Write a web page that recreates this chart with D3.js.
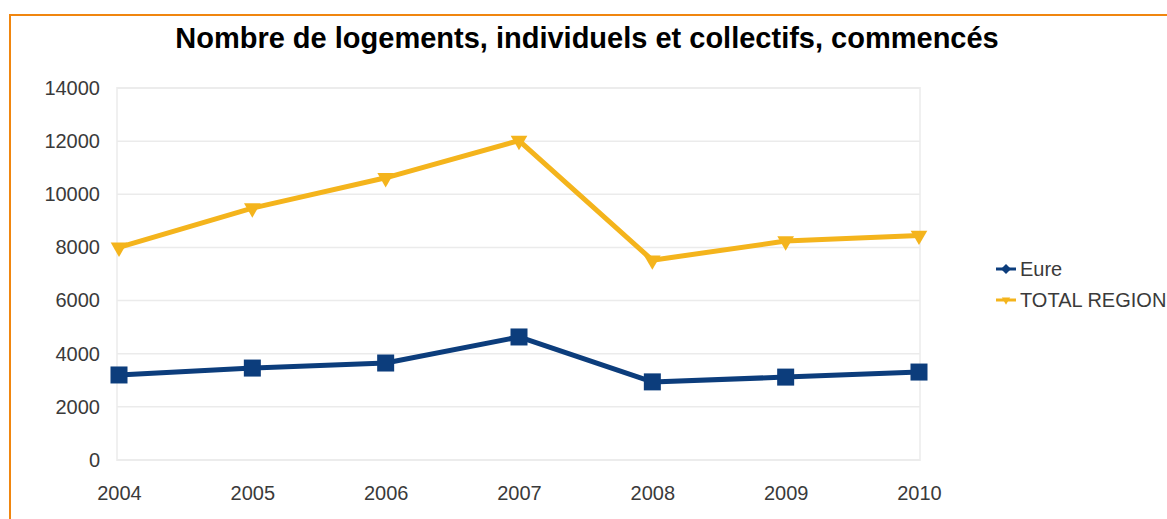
<!DOCTYPE html>
<html>
<head>
<meta charset="utf-8">
<script src="https://cdn.jsdelivr.net/npm/d3@7"></script>
<style>
  body{margin:0;background:#fff;}
  svg{display:block;font-family:"Liberation Sans",Arial,sans-serif;}
</style>
</head>
<body>
<svg id="chart"></svg>
<script>
const width=1167, height=519;

// data
const years=[2004,2005,2006,2007,2008,2009,2010];
const eure=[3200,3460,3650,4630,2940,3120,3310];
const totalRegion=[8000,9480,10620,12020,7520,8240,8450];
const yTicks=[0,2000,4000,6000,8000,10000,12000,14000];
const seriesNames=["Eure","TOTAL REGION"];

const colors={eure:"#0c3d7c",total:"#f4b41c"};

let svg=d3.select("#chart").attr("width",width).attr("height",height);

// frame
svg.append("rect")
  .attr("x",10).attr("y",15)
  .attr("width",width+20).attr("height",height+20)
  .attr("fill","none")
  .attr("stroke","#f0860f")
  .attr("stroke-width",2);

// title
svg.append("text")
  .attr("x",587).attr("y",48)
  .attr("text-anchor","middle")
  .attr("font-weight","bold")
  .attr("font-size",29)
  .attr("fill","#000")
  .text("Nombre de logements, individuels et collectifs, commencés");

const x=d3.scaleLinear().domain([2004,2010]).range([119,919]);
const y=d3.scaleLinear().domain([0,14000]).range([460,88]);

// plot area
svg.append("rect")
  .attr("x",117).attr("y",88)
  .attr("width",803).attr("height",372)
  .attr("fill","none")
  .attr("stroke","#f0f0f0")
  .attr("stroke-width",2);

// grid
svg.append("g")
  .selectAll("line")
  .data(yTicks)
  .join("line")
  .attr("x1",117).attr("x2",920)
  .attr("y1",d=>y(d)).attr("y2",d=>y(d))
  .attr("stroke","#ebebeb")
  .attr("stroke-width",1.5);

// y axis labels
const yAxis=d3.axisLeft(y).tickValues(yTicks).tickSize(0).tickPadding(0).tickFormat(d3.format("d"));
let gy=svg.append("g").attr("transform","translate(100,0)").call(yAxis);
gy.select(".domain").remove();
gy.selectAll("text")
  .attr("font-size",20)
  .attr("font-family","Liberation Sans, Arial, sans-serif")
  .attr("fill","#3a3a3a");

// x axis labels
const xAxis=d3.axisBottom(x).tickValues(years).tickSize(0).tickPadding(0).tickFormat(d3.format("d"));
let gx=svg.append("g").attr("transform","translate(0,486)").call(xAxis);
gx.select(".domain").remove();
gx.selectAll("text")
  .attr("font-size",20)
  .attr("font-family","Liberation Sans, Arial, sans-serif")
  .attr("fill","#3a3a3a");

const line=d3.line().x((d,i)=>x(years[i])).y(d=>y(d));

// total region
svg.append("path")
  .datum(totalRegion)
  .attr("d",line)
  .attr("fill","none")
  .attr("stroke",colors.total)
  .attr("stroke-width",5)
  .attr("stroke-linejoin","round");

const tri=d3.symbol().type(d3.symbolTriangle).size(120);
svg.append("g")
  .selectAll("path")
  .data(totalRegion)
  .join("path")
  .attr("d",tri)
  .attr("transform",(d,i)=>`translate(${x(years[i])},${y(d)}) rotate(180)`)
  .attr("fill",colors.total);

// eure
svg.append("path")
  .datum(eure)
  .attr("d",line)
  .attr("fill","none")
  .attr("stroke",colors.eure)
  .attr("stroke-width",5)
  .attr("stroke-linejoin","round");

svg.append("g")
  .selectAll("rect")
  .data(eure)
  .join("rect")
  .attr("x",(d,i)=>x(years[i])-8.5)
  .attr("y",d=>y(d)-8.5)
  .attr("width",17).attr("height",17)
  .attr("fill",colors.eure);

// legend
const legend=svg.append("g").attr("transform","translate(996,269)");
seriesNames.forEach((name,i)=>{
  const c=i===0?colors.eure:colors.total;
  const g=legend.append("g").attr("transform",`translate(0,${i*31})`);
  g.append("line")
    .attr("x1",0).attr("x2",20)
    .attr("y1",0).attr("y2",0)
    .attr("stroke",c).attr("stroke-width",3);
  if(i===0){
    g.append("path")
      .attr("d",d3.symbol().type(d3.symbolDiamond).size(45))
      .attr("transform","translate(10,0) scale(1.4,0.8)")
      .attr("fill",c);
  }else{
    g.append("path")
      .attr("d",d3.symbol().type(d3.symbolTriangle).size(30))
      .attr("transform","translate(10,0) rotate(180)")
      .attr("fill",c);
  }
  g.append("text")
    .attr("x",24).attr("y",7)
    .attr("font-size",20)
    .attr("fill","#3a3a3a")
    .text(name);
});
</script>
</body>
</html>
